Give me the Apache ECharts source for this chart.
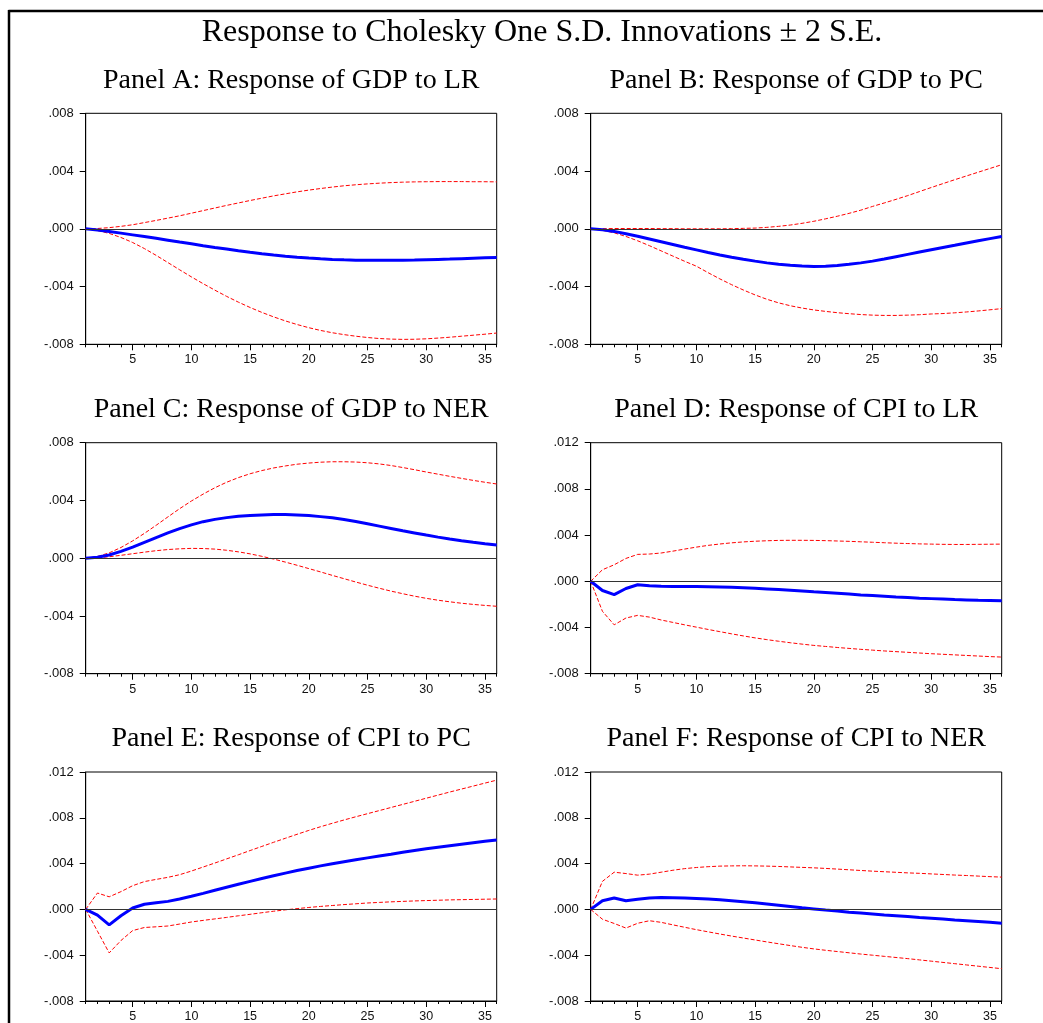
<!DOCTYPE html>
<html>
<head>
<meta charset="utf-8">
<script src="https://cdn.jsdelivr.net/npm/echarts@6/dist/echarts.min.js"></script>
<style>
  html, body { margin: 0; padding: 0; background: #fff; }
  #chart { width: 1043px; height: 1023px; }
</style>
</head>
<body>
<div id="chart"></div>
<script>
// Impulse response horizon (periods 1..36)
const periods = [1,2,3,4,5,6,7,8,9,10,11,12,13,14,15,16,17,18,19,20,21,22,23,24,25,26,27,28,29,30,31,32,33,34,35,36];
const xTickLabels = [5,10,15,20,25,30,35];
const yTicksGDP = [-0.008,-0.004,0,0.004,0.008];
const yTicksCPI = [-0.008,-0.004,0,0.004,0.008,0.012];

const mainTitle = 'Response to Cholesky One S.D. Innovations \u00B1 2 S.E.';
const panelTitles = [
  'Panel A: Response of GDP to LR',
  'Panel B: Response of GDP to PC',
  'Panel C: Response of GDP to NER',
  'Panel D: Response of CPI to LR',
  'Panel E: Response of CPI to PC',
  'Panel F: Response of CPI to NER'
];

// Panel A: GDP to LR
const gdpLR = [0,-0.00008,-0.00018,-0.0003,-0.00042,-0.00054,-0.00066,-0.00079,-0.00092,-0.00104,-0.00117,-0.00129,-0.0014,-0.00152,-0.00163,-0.00173,-0.00182,-0.0019,-0.00197,-0.00203,-0.00208,-0.00212,-0.00215,-0.00217,-0.00218,-0.00218,-0.00218,-0.00217,-0.00216,-0.00214,-0.00212,-0.0021,-0.00207,-0.00204,-0.00201,-0.00198];
const gdpLRUp = [0,0.00002,0.00008,0.00017,0.00028,0.00043,0.00058,0.00074,0.0009,0.00108,0.00126,0.00144,0.00162,0.00179,0.00196,0.00212,0.00228,0.00242,0.00256,0.00268,0.00279,0.00289,0.00298,0.00305,0.00311,0.00316,0.0032,0.00323,0.00325,0.00326,0.00327,0.00327,0.00327,0.00326,0.00326,0.00325];
const gdpLRLo = [0,-0.00012,-0.00032,-0.0006,-0.00095,-0.00137,-0.00184,-0.00234,-0.00284,-0.00333,-0.0038,-0.00425,-0.00468,-0.00508,-0.00545,-0.00579,-0.0061,-0.00638,-0.00663,-0.00685,-0.00704,-0.0072,-0.00733,-0.00744,-0.00753,-0.0076,-0.00764,-0.00766,-0.00765,-0.00762,-0.00757,-0.00751,-0.00744,-0.00737,-0.0073,-0.00722];

// Panel B: GDP to PC
const gdpPC = [0,-0.00006,-0.00018,-0.00034,-0.00052,-0.00071,-0.0009,-0.00109,-0.00128,-0.00146,-0.00164,-0.00181,-0.00197,-0.00211,-0.00224,-0.00236,-0.00245,-0.00252,-0.00257,-0.00261,-0.00259,-0.00254,-0.00246,-0.00236,-0.00224,-0.00209,-0.00193,-0.00177,-0.00161,-0.00145,-0.00129,-0.00114,-0.00098,-0.00083,-0.00068,-0.00053];
const gdpPCUp = [0,0.00001,0.00002,0.00002,0.00002,0.00002,0.00001,0.00001,0,0,0,0,0.00001,0.00003,0.00005,0.0001,0.00017,0.00026,0.00038,0.00052,0.00069,0.00087,0.00107,0.00129,0.00155,0.00179,0.00204,0.0023,0.00258,0.00286,0.00313,0.0034,0.00366,0.00392,0.00418,0.00444];
const gdpPCLo = [0,-0.0001,-0.00028,-0.00053,-0.00083,-0.00117,-0.00153,-0.00189,-0.00225,-0.00259,-0.00304,-0.00347,-0.00387,-0.00424,-0.00458,-0.00488,-0.00513,-0.00533,-0.00549,-0.00562,-0.00572,-0.00581,-0.00588,-0.00594,-0.00598,-0.006,-0.006,-0.00598,-0.00595,-0.0059,-0.00587,-0.00582,-0.00576,-0.00569,-0.00561,-0.00553];

// Panel C: GDP to NER
const gdpNER = [0,0.00006,0.00022,0.00047,0.00077,0.0011,0.00143,0.00175,0.00205,0.00231,0.00253,0.00269,0.00281,0.0029,0.00296,0.003,0.00302,0.00302,0.003,0.00295,0.00288,0.0028,0.00268,0.00254,0.00238,0.00222,0.00206,0.0019,0.00175,0.0016,0.00146,0.00133,0.00121,0.0011,0.001,0.00091];
const gdpNERUp = [0,0.00012,0.00037,0.00074,0.0012,0.00172,0.00228,0.00286,0.00343,0.00396,0.00444,0.00488,0.00526,0.00558,0.00585,0.00607,0.00625,0.00639,0.00651,0.00659,0.00665,0.00668,0.00668,0.00666,0.00661,0.00653,0.00642,0.00628,0.00613,0.00597,0.00582,0.00567,0.00553,0.00539,0.00526,0.00514];
const gdpNERLo = [0,0.00003,0.0001,0.0002,0.00031,0.00042,0.00052,0.0006,0.00065,0.00068,0.00067,0.00063,0.00055,0.00044,0.0003,0.00013,-0.00006,-0.00027,-0.00049,-0.00072,-0.00095,-0.00119,-0.00142,-0.00165,-0.00187,-0.00208,-0.00228,-0.00246,-0.00263,-0.00278,-0.00291,-0.00302,-0.00312,-0.0032,-0.00327,-0.00333];

// Panel D: CPI to LR
const cpiLR = [0,-0.0008,-0.00115,-0.00062,-0.0003,-0.00038,-0.00043,-0.00045,-0.00046,-0.00046,-0.00047,-0.00049,-0.00052,-0.00056,-0.00061,-0.00066,-0.00072,-0.00078,-0.00084,-0.00091,-0.00097,-0.00104,-0.00111,-0.00118,-0.00124,-0.0013,-0.00136,-0.00141,-0.00146,-0.0015,-0.00154,-0.00158,-0.00161,-0.00164,-0.00166,-0.00168];
const cpiLRUp = [0,0.001,0.00143,0.00198,0.00233,0.00236,0.00245,0.00261,0.00279,0.00296,0.00311,0.00323,0.00333,0.00341,0.00347,0.00351,0.00354,0.00355,0.00355,0.00354,0.00352,0.00349,0.00346,0.00342,0.00338,0.00334,0.0033,0.00327,0.00324,0.00322,0.0032,0.00319,0.00319,0.0032,0.00321,0.00322];
const cpiLRLo = [0,-0.0026,-0.00377,-0.00318,-0.00295,-0.0031,-0.00335,-0.00356,-0.00377,-0.00397,-0.00417,-0.00436,-0.00455,-0.00473,-0.0049,-0.00505,-0.00519,-0.00532,-0.00544,-0.00555,-0.00564,-0.00573,-0.00581,-0.00589,-0.00596,-0.00603,-0.00609,-0.00615,-0.00621,-0.00627,-0.00632,-0.00637,-0.00642,-0.00647,-0.00652,-0.00656];

// Panel E: CPI to PC
const cpiPC = [0,-0.0005,-0.00135,-0.00055,0.00012,0.00045,0.00058,0.0007,0.00091,0.00115,0.0014,0.00167,0.00193,0.00219,0.00245,0.0027,0.00294,0.00317,0.00339,0.0036,0.0038,0.00399,0.00417,0.00434,0.0045,0.00466,0.00482,0.00499,0.00515,0.0053,0.00543,0.00556,0.00569,0.00582,0.00595,0.00607];
const cpiPCUp = [0,0.00143,0.0011,0.00155,0.00207,0.00243,0.00262,0.0028,0.00303,0.00335,0.0037,0.00405,0.00441,0.00477,0.00514,0.0055,0.00586,0.00621,0.00656,0.0069,0.00722,0.00752,0.00781,0.00809,0.00836,0.00863,0.0089,0.00917,0.00944,0.00971,0.00998,0.01025,0.01051,0.01077,0.01103,0.01129];
const cpiPCLo = [0,-0.0019,-0.0038,-0.00272,-0.00185,-0.00158,-0.00152,-0.00145,-0.00128,-0.0011,-0.00096,-0.00083,-0.0007,-0.00056,-0.00043,-0.00029,-0.00016,-0.00004,0.00007,0.00017,0.00026,0.00034,0.00042,0.00049,0.00056,0.00061,0.00066,0.0007,0.00074,0.00077,0.0008,0.00083,0.00085,0.00087,0.00089,0.00091];

// Panel F: CPI to NER
const cpiNER = [0,0.00075,0.001,0.00075,0.00088,0.001,0.00104,0.00102,0.00099,0.00096,0.00091,0.00084,0.00076,0.00067,0.00058,0.00047,0.00036,0.00025,0.00014,0.00004,-0.00006,-0.00015,-0.00024,-0.00032,-0.0004,-0.00048,-0.00055,-0.00062,-0.0007,-0.00077,-0.00084,-0.00092,-0.00099,-0.00106,-0.00113,-0.0012];
const cpiNERUp = [0,0.00245,0.00325,0.00313,0.00299,0.00308,0.00325,0.00342,0.00356,0.00366,0.00373,0.00378,0.0038,0.00381,0.0038,0.00378,0.00375,0.00371,0.00367,0.00363,0.00358,0.00352,0.00346,0.0034,0.00334,0.00329,0.00324,0.00319,0.00315,0.0031,0.00305,0.003,0.00296,0.00291,0.00286,0.00282];
const cpiNERLo = [0,-0.00086,-0.00123,-0.00163,-0.00121,-0.00099,-0.00113,-0.00135,-0.00156,-0.00177,-0.00196,-0.00215,-0.00233,-0.0025,-0.00267,-0.00284,-0.003,-0.00316,-0.00331,-0.00345,-0.00357,-0.00368,-0.00379,-0.0039,-0.004,-0.0041,-0.0042,-0.0043,-0.00441,-0.00452,-0.00463,-0.00474,-0.00485,-0.00496,-0.00507,-0.00518];

const panels = [
  { title: panelTitles[0], resp: gdpLR,  up: gdpLRUp,  lo: gdpLRLo,  ticks: yTicksGDP },
  { title: panelTitles[1], resp: gdpPC,  up: gdpPCUp,  lo: gdpPCLo,  ticks: yTicksGDP },
  { title: panelTitles[2], resp: gdpNER, up: gdpNERUp, lo: gdpNERLo, ticks: yTicksGDP },
  { title: panelTitles[3], resp: cpiLR,  up: cpiLRUp,  lo: cpiLRLo,  ticks: yTicksCPI },
  { title: panelTitles[4], resp: cpiPC,  up: cpiPCUp,  lo: cpiPCLo,  ticks: yTicksCPI },
  { title: panelTitles[5], resp: cpiNER, up: cpiNERUp, lo: cpiNERLo, ticks: yTicksCPI }
];

// Layout of the 3 x 2 panel grid
const colLeft = [85.7, 590.7];
const rowTop = [113.3, 442.7, 772];
const plotW = 411;
const plotH = 231;

const tickFont = 'Liberation Sans';
const titleFont = 'Liberation Serif';

function fmtTick(v) {
  if (Math.abs(v) < 1e-12) return '.000';
  return v.toFixed(3).replace('0.', '.');
}

const grids = [], xAxes = [], yAxes = [], series = [], graphics = [];

panels.forEach((p, i) => {
  const col = i % 2, row = Math.floor(i / 2);
  const left = colLeft[col], top = rowTop[row];
  grids.push({
    left: left, top: top, width: plotW, height: plotH,
    show: true, borderColor: '#000', borderWidth: 1, backgroundColor: 'transparent'
  });

  // major x axis: labels and longer ticks every 5 periods
  xAxes.push({
    type: 'value', gridIndex: i, min: 1, max: 36, position: 'bottom',
    axisLine: { show: true, onZero: false, lineStyle: { color: '#000', width: 1 } },
    axisTick: { show: true, customValues: xTickLabels, length: 6, lineStyle: { color: '#000' } },
    axisLabel: { show: true, customValues: xTickLabels, margin: 9, fontSize: 12.5, fontFamily: tickFont, color: '#111' },
    splitLine: { show: false }
  });
  // minor x axis: short tick at every period
  xAxes.push({
    type: 'value', gridIndex: i, min: 1, max: 36, position: 'bottom',
    axisLine: { show: false, onZero: false },
    axisTick: { show: true, customValues: periods, length: 3, lineStyle: { color: '#000' } },
    axisLabel: { show: false },
    splitLine: { show: false }
  });

  const yMin = p.ticks[0], yMax = p.ticks[p.ticks.length - 1];
  yAxes.push({
    type: 'value', gridIndex: i, min: yMin, max: yMax, interval: 0.004,
    axisLine: { show: true, onZero: false, lineStyle: { color: '#000', width: 1 } },
    axisTick: { show: true, length: 6, lineStyle: { color: '#000' } },
    axisLabel: { margin: 12, fontSize: 13, fontFamily: tickFont, color: '#111', formatter: fmtTick },
    splitLine: { show: false }
  });

  const toPts = arr => periods.map((t, k) => [t, arr[k]]);
  const xi = i * 2;

  series.push({
    type: 'line', xAxisIndex: xi, yAxisIndex: i, data: toPts(p.up),
    showSymbol: false, silent: true, z: 3,
    lineStyle: { color: '#ff0000', width: 1, type: [4, 2] },
    markLine: {
      silent: true, symbol: 'none', label: { show: false },
      lineStyle: { color: '#333', width: 1.2, type: 'solid' },
      data: [{ yAxis: 0 }]
    }
  });
  series.push({
    type: 'line', xAxisIndex: xi, yAxisIndex: i, data: toPts(p.lo),
    showSymbol: false, silent: true, z: 3,
    lineStyle: { color: '#ff0000', width: 1, type: [4, 2] }
  });
  series.push({
    type: 'line', xAxisIndex: xi, yAxisIndex: i, data: toPts(p.resp),
    showSymbol: false, silent: true, z: 4,
    lineStyle: { color: '#0000ff', width: 3 }
  });

  graphics.push({
    type: 'text', x: left + plotW / 2, y: top - 33,
    style: { text: p.title, font: '28px "' + titleFont + '"', fill: '#000', align: 'center', verticalAlign: 'middle' }
  });
});

graphics.push({
  type: 'text', x: 542, y: 33,
  style: { text: mainTitle, font: '32px "' + titleFont + '"', fill: '#000', align: 'center', verticalAlign: 'middle' }
});
// outer frame (top and left edges)
graphics.push({ type: 'line', shape: { x1: 8.5, y1: 11, x2: 1043, y2: 11 }, style: { stroke: '#000', lineWidth: 2.5 } });
graphics.push({ type: 'line', shape: { x1: 9, y1: 10, x2: 9, y2: 1023 }, style: { stroke: '#000', lineWidth: 2.5 } });

const chart = echarts.init(document.getElementById('chart'), null, { renderer: 'canvas' });
chart.setOption({
  animation: false,
  backgroundColor: '#fff',
  grid: grids,
  xAxis: xAxes,
  yAxis: yAxes,
  series: series,
  graphic: graphics
});
</script>
</body>
</html>
